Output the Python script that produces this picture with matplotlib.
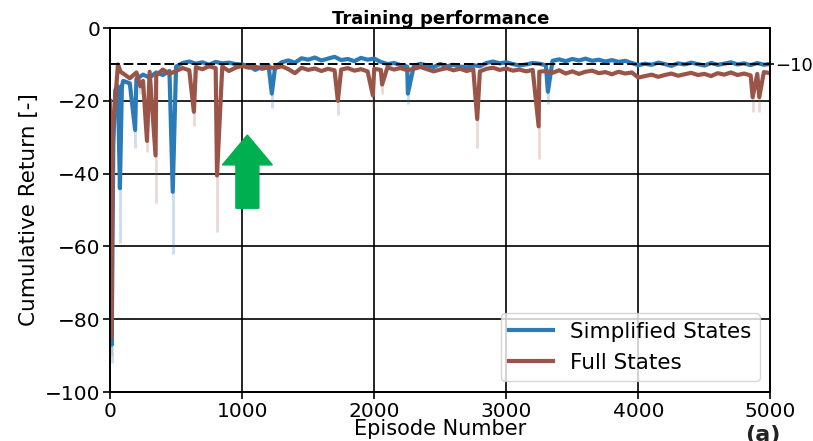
import numpy as np
import matplotlib
matplotlib.use("Agg")
import matplotlib.pyplot as plt
from matplotlib.patches import FancyArrow

# ---- training curves (cumulative return per episode) ----
# early episodes, sampled densely
simp_early_ep = [0, 13, 25, 40, 60, 75, 90]
simp_early_val = [-30.0, -87.0, -32.0, -17.0, -16.0, -44.0, -16.0]
full_early_ep = [0, 10, 20, 35, 50, 60, 80]
full_early_val = [-20.0, -85.0, -28.0, -22.0, -15.0, -10.0, -12.0]

# regular part, every 50 episodes from 100 to 5000
simp_values = [
    -14.5, -15.2, -14.0, -12.8, -13.6, -12.2, -12.9, -11.8, -10.6, -9.6,
    -9.2, -9.8, -9.4, -10.1, -9.3, -9.7, -9.5, -9.9, -10.0, -10.4,
    -11.5, -10.6, -10.2, -10.7, -9.4, -8.9, -9.5, -8.3, -8.7, -8.1,
    -8.9, -8.4, -7.9, -8.8, -8.5, -9.1, -8.2, -8.7, -8.4, -9.3,
    -9.9, -9.6, -10.2, -10.6, -10.4, -9.8, -10.3, -10.7, -9.9, -10.5,
    -10.1, -10.6, -10.8, -10.2, -10.5, -9.6, -9.2, -9.7, -9.4, -9.9,
    -10.3, -10.0, -9.6, -9.8, -10.2, -9.0, -8.6, -9.1, -8.5, -8.9,
    -8.4, -9.0, -8.7, -9.2, -8.8, -9.3, -9.0, -9.6, -10.2, -9.8,
    -10.1, -9.5, -9.9, -10.4, -9.7, -10.0, -9.5, -9.9, -10.3, -9.6,
    -10.1, -9.8, -9.4, -10.0, -9.7, -10.2, -9.6, -10.1, -9.8,
]
full_values = [
    -12.5, -13.8, -12.2, -14.5, -12.0, -13.0, -11.4, -12.6, -11.8, -11.0,
    -11.6, -10.8, -11.3, -10.5, -11.0, -10.6, -11.8, -10.9, -10.4, -10.9,
    -10.6, -11.2, -10.8, -11.0, -10.5, -11.3, -12.4, -10.9, -11.5, -11.1,
    -11.8, -11.2, -11.6, -11.4, -11.0, -11.7, -11.3, -11.9, -11.2, -11.5,
    -10.8, -11.4, -11.0, -11.6, -11.2, -10.7, -11.3, -11.9, -11.4, -11.0,
    -11.6, -11.2, -11.8, -11.3, -11.9, -11.2, -10.9, -11.5, -11.1, -11.7,
    -11.4, -11.9, -11.5, -12.0, -11.8, -12.3, -11.6, -12.5, -11.9, -12.6,
    -12.0, -11.7, -12.4, -12.1, -12.7, -12.0, -12.5, -12.2, -13.6, -13.2,
    -12.8, -13.4, -12.9, -12.5, -13.1, -12.7, -12.3, -12.9, -12.6, -13.2,
    -12.4, -12.8, -12.2, -12.9, -12.5, -13.0, -12.6, -12.1, -12.4,
]

# sharp drops: episode, mean value, lowest single-run value
simp_spike_ep = [13, 75, 190, 475, 1225, 2255, 3315]
simp_spike_val = [-87.0, -44.0, -28.0, -45.0, -18.0, -18.0, -17.5]
simp_spike_low = [-92.0, -59.0, -33.0, -62.0, -22.0, -21.0, -21.0]

full_spike_ep = [10, 230, 280, 345, 635, 810, 1725, 1990, 2060, 2780, 3245, 4865, 4915]
full_spike_val = [-85.0, -16.0, -31.0, -35.0, -23.0, -40.5, -20.0, -18.5, -15.5, -25.0, -27.0, -19.0, -19.0]
full_spike_low = [-90.0, -18.0, -34.0, -48.0, -27.0, -56.0, -24.0, -22.0, -18.0, -33.0, -36.0, -23.0, -23.0]

ref_level = -10

grid_ep = np.arange(100, 5001, 50)


def assemble(early_ep, early_val, values, spike_ep, spike_val):
    points = dict(zip(early_ep, early_val))
    points.update(zip(grid_ep.tolist(), values))
    points.update(zip(spike_ep, spike_val))
    ep = np.array(sorted(points))
    return ep, np.array([points[e] for e in ep])


s_ep, s_val = assemble(simp_early_ep, simp_early_val, simp_values,
                       simp_spike_ep, simp_spike_val)
f_ep, f_val = assemble(full_early_ep, full_early_val, full_values,
                       full_spike_ep, full_spike_val)

c_simp = "#2b7bb9"
c_full = "#9a5548"

fig = plt.figure(figsize=(8.13, 4.41), dpi=100)
ax = fig.add_axes([0.1353, 0.111, 0.8124, 0.8254])

ax.grid(True, color="black", linewidth=1.2, zorder=0)
ax.set_axisbelow(True)

# faint range of individual runs below each drop
ax.vlines(simp_spike_ep, simp_spike_low, simp_spike_val, color=c_simp,
          alpha=0.25, linewidth=2.0, zorder=2)
ax.vlines(full_spike_ep, full_spike_low, full_spike_val, color=c_full,
          alpha=0.22, linewidth=2.0, zorder=2)

ax.plot(s_ep, s_val, color=c_simp, linewidth=3.0, label="Simplified States", zorder=3)
ax.plot(f_ep, f_val, color=c_full, linewidth=3.0, label="Full States", zorder=4)

ax.axhline(ref_level, color="black", linestyle=(0, (5, 2)), linewidth=1.4, zorder=5)

ax.set_xlim(0, 5000)
ax.set_ylim(-100, 0)
ax.set_xticks([0, 1000, 2000, 3000, 4000, 5000])
ax.set_yticks([-100, -80, -60, -40, -20, 0])
ax.tick_params(labelsize=14.5, width=1.2, length=5, pad=2)
for sp in ax.spines.values():
    sp.set_linewidth(1.3)
    sp.set_color("black")

ax.set_title("Training performance", fontsize=13, fontweight="bold", pad=3)
ax.set_xlabel("Episode Number", fontsize=15, labelpad=-1)
ax.set_ylabel("Cumulative Return [-]", fontsize=15.5, labelpad=4)

ax2 = ax.twinx()
ax2.set_ylim(-100, 0)
ax2.set_yticks([ref_level])
ax2.tick_params(labelsize=13, width=1.2, length=3, pad=0)
for sp in ax2.spines.values():
    sp.set_linewidth(1.3)

leg = ax.legend(loc="lower right", fontsize=15.5, handlelength=2.0,
                borderaxespad=0.5, framealpha=0.8)

# highlight arrow
ax.add_patch(FancyArrow(1040, -49.5, 0, 11.9, width=174, head_width=378,
                        head_length=8.2, length_includes_head=False,
                        color="#00b050", zorder=6))

fig.text(0.917, 0.037, "(a)", fontsize=16, fontweight="bold", va="top",
         color="#222222")

fig.savefig("out.png", dpi=100)
